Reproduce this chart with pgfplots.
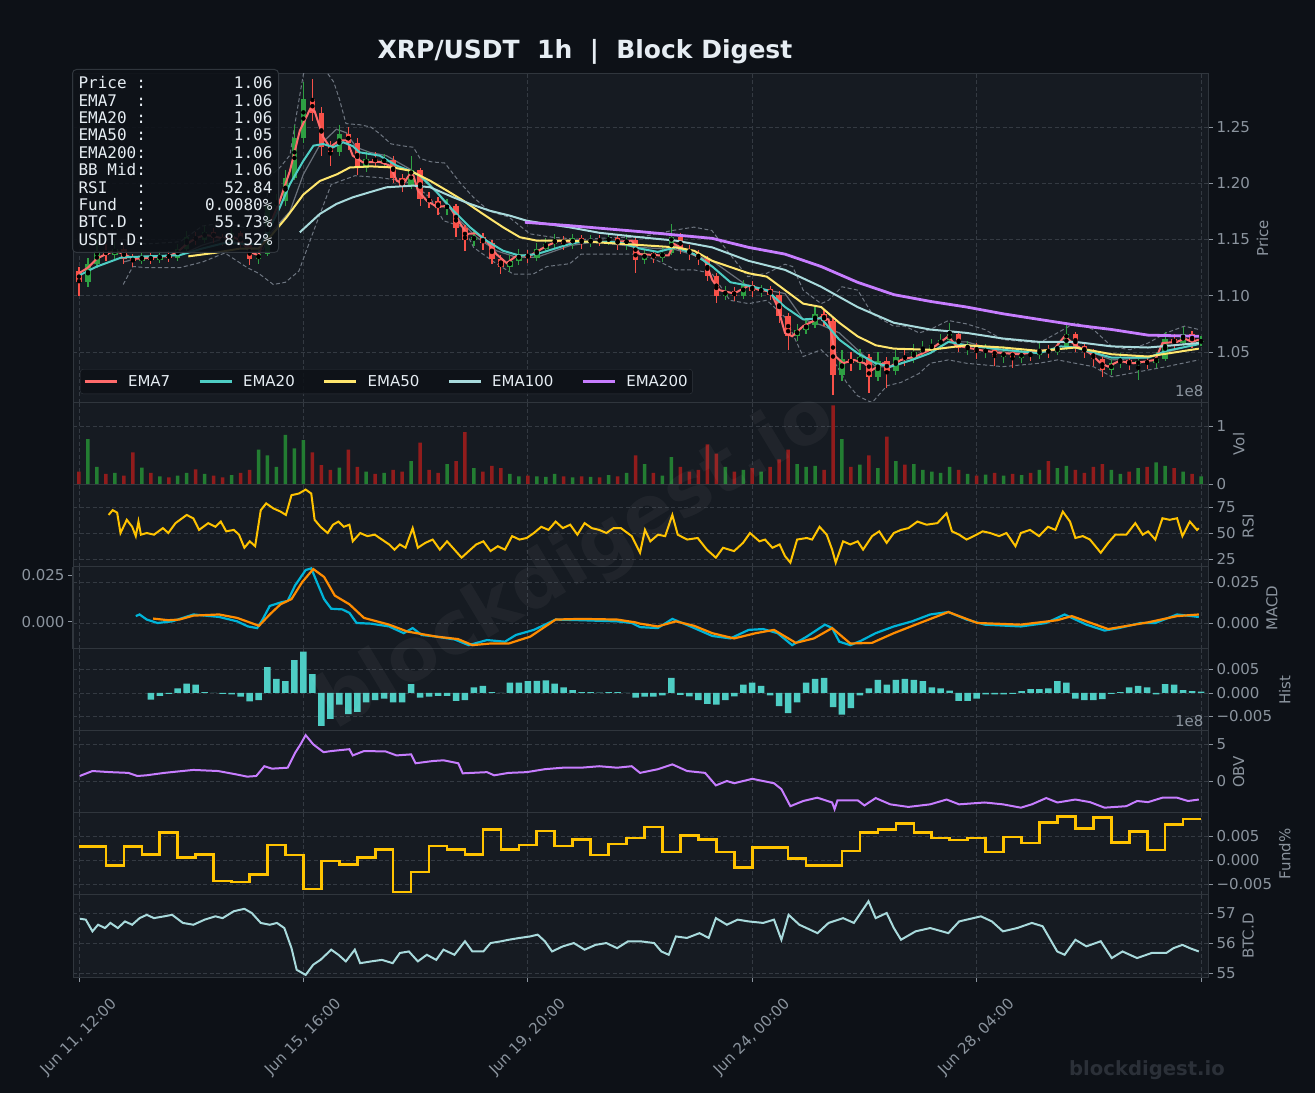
\documentclass[border=0pt]{standalone}
\usepackage{fontspec}
\setmainfont{DejaVu Sans}
\newfontfamily\monofont{DejaVu Sans Mono}
\usepackage{pgfplots}
\pgfplotsset{compat=1.18}
\usepackage{pgfplotstable}

\definecolor{bg}{RGB}{13,17,23}
\definecolor{axbg}{RGB}{22,27,34}
\definecolor{spine}{RGB}{48,54,61}
\definecolor{gridc}{RGB}{52,58,66}
\definecolor{ticklab}{RGB}{139,148,158}
\definecolor{txt}{RGB}{230,237,243}
\definecolor{ema7}{RGB}{255,107,107}
\definecolor{ema20}{RGB}{78,205,196}
\definecolor{ema50}{RGB}{255,230,109}
\definecolor{ema100}{RGB}{168,218,220}
\definecolor{ema200}{RGB}{199,125,255}
\definecolor{cup}{RGB}{46,160,67}
\definecolor{cdn}{RGB}{248,81,73}
\definecolor{vup}{RGB}{35,125,50}
\definecolor{vdn}{RGB}{145,28,28}
\definecolor{rsic}{RGB}{255,195,0}
\definecolor{macdc}{RGB}{0,180,216}
\definecolor{sigc}{RGB}{255,140,0}
\definecolor{bbc}{RGB}{110,118,129}
\definecolor{bbm}{RGB}{105,112,122}
\definecolor{wm}{RGB}{43,48,56}

\pgfplotstableread{
t o h l c v
0 1.122 1.126 1.100 1.112 0.22
4 1.112 1.134 1.108 1.128 0.78
8 1.128 1.150 1.125 1.140 0.30
12 1.140 1.146 1.131 1.136 0.18
16 1.136 1.148 1.132 1.142 0.20
20 1.142 1.145 1.128 1.133 0.15
24 1.133 1.137 1.126 1.131 0.55
28 1.131 1.139 1.128 1.135 0.29
32 1.135 1.138 1.128 1.132 0.20
36 1.132 1.140 1.129 1.136 0.14
40 1.136 1.140 1.130 1.134 0.12
44 1.134 1.146 1.131 1.142 0.15
48 1.142 1.158 1.140 1.152 0.20
52 1.152 1.157 1.145 1.150 0.26
56 1.150 1.162 1.147 1.157 0.18
60 1.157 1.160 1.147 1.151 0.15
64 1.151 1.155 1.144 1.149 0.12
68 1.149 1.160 1.146 1.156 0.16
72 1.156 1.158 1.142 1.146 0.20
76 1.146 1.148 1.127 1.133 0.25
80 1.133 1.141 1.128 1.137 0.60
84 1.137 1.186 1.135 1.180 0.50
88 1.180 1.190 1.176 1.184 0.30
92 1.184 1.212 1.180 1.205 0.85
96 1.205 1.252 1.203 1.240 0.62
100 1.240 1.290 1.236 1.275 0.76
104 1.275 1.293 1.255 1.262 0.55
108 1.262 1.268 1.224 1.232 0.33
112 1.232 1.238 1.215 1.228 0.25
116 1.228 1.252 1.224 1.244 0.29
120 1.244 1.250 1.230 1.236 0.60
124 1.236 1.240 1.207 1.214 0.30
128 1.214 1.229 1.210 1.222 0.22
132 1.222 1.228 1.214 1.219 0.18
136 1.219 1.226 1.214 1.221 0.20
140 1.221 1.224 1.200 1.205 0.25
144 1.205 1.208 1.192 1.198 0.22
148 1.198 1.224 1.195 1.212 0.40
152 1.212 1.214 1.180 1.186 0.72
156 1.186 1.192 1.178 1.184 0.25
160 1.184 1.188 1.172 1.178 0.20
164 1.178 1.186 1.172 1.180 0.35
168 1.180 1.182 1.152 1.160 0.40
172 1.160 1.163 1.140 1.150 0.90
176 1.150 1.158 1.144 1.152 0.28
180 1.152 1.156 1.141 1.147 0.22
184 1.147 1.150 1.128 1.133 0.32
188 1.133 1.136 1.119 1.126 0.28
192 1.126 1.136 1.121 1.131 0.18
196 1.131 1.142 1.127 1.137 0.14
200 1.137 1.141 1.129 1.134 0.15
204 1.134 1.147 1.131 1.142 0.14
208 1.142 1.151 1.139 1.146 0.13
212 1.146 1.155 1.142 1.150 0.18
216 1.150 1.153 1.141 1.146 0.14
220 1.146 1.155 1.142 1.151 0.12
224 1.151 1.154 1.142 1.147 0.14
228 1.147 1.154 1.143 1.150 0.13
232 1.150 1.154 1.144 1.149 0.12
236 1.149 1.155 1.145 1.151 0.16
240 1.151 1.154 1.141 1.146 0.14
244 1.146 1.155 1.141 1.150 0.20
248 1.150 1.152 1.120 1.132 0.50
252 1.132 1.142 1.128 1.138 0.35
256 1.138 1.141 1.129 1.134 0.20
260 1.134 1.143 1.130 1.138 0.15
264 1.138 1.164 1.136 1.152 0.47
268 1.152 1.156 1.137 1.141 0.30
272 1.141 1.145 1.132 1.138 0.22
276 1.138 1.141 1.127 1.133 0.25
280 1.133 1.135 1.113 1.118 0.69
284 1.118 1.120 1.094 1.100 0.53
288 1.100 1.109 1.096 1.104 0.30
292 1.104 1.108 1.095 1.100 0.22
296 1.100 1.114 1.097 1.110 0.25
300 1.110 1.113 1.099 1.104 0.28
304 1.104 1.110 1.099 1.106 0.22
308 1.106 1.109 1.096 1.101 0.30
312 1.101 1.104 1.076 1.082 0.43
316 1.082 1.085 1.052 1.064 0.60
320 1.064 1.075 1.060 1.070 0.35
324 1.070 1.079 1.066 1.074 0.30
328 1.074 1.090 1.071 1.084 0.32
332 1.084 1.087 1.073 1.078 0.25
336 1.078 1.080 1.012 1.030 1.36
340 1.030 1.052 1.024 1.044 0.78
344 1.044 1.050 1.033 1.040 0.30
348 1.040 1.053 1.034 1.046 0.34
352 1.046 1.048 1.014 1.028 0.50
356 1.028 1.050 1.024 1.042 0.28
360 1.042 1.046 1.018 1.033 0.82
364 1.033 1.052 1.030 1.046 0.40
368 1.046 1.052 1.038 1.044 0.34
372 1.044 1.057 1.040 1.050 0.35
376 1.050 1.060 1.046 1.053 0.25
380 1.053 1.062 1.049 1.056 0.22
384 1.056 1.066 1.052 1.061 0.20
388 1.061 1.076 1.058 1.066 0.30
392 1.066 1.068 1.050 1.054 0.25
396 1.054 1.060 1.047 1.055 0.18
400 1.055 1.058 1.044 1.050 0.15
404 1.050 1.057 1.045 1.052 0.17
408 1.052 1.055 1.038 1.046 0.20
412 1.046 1.055 1.040 1.050 0.15
416 1.050 1.053 1.036 1.045 0.18
420 1.045 1.054 1.040 1.049 0.16
424 1.049 1.053 1.042 1.047 0.20
428 1.047 1.058 1.044 1.052 0.25
432 1.052 1.056 1.045 1.050 0.40
436 1.050 1.060 1.047 1.054 0.28
440 1.054 1.076 1.052 1.066 0.32
444 1.066 1.068 1.050 1.055 0.25
448 1.055 1.058 1.045 1.050 0.20
452 1.050 1.053 1.038 1.044 0.30
456 1.044 1.046 1.028 1.034 0.35
460 1.034 1.044 1.030 1.040 0.25
464 1.040 1.049 1.036 1.043 0.18
468 1.043 1.046 1.034 1.039 0.22
472 1.039 1.047 1.025 1.042 0.28
476 1.042 1.046 1.035 1.040 0.30
480 1.040 1.050 1.036 1.044 0.38
484 1.044 1.068 1.042 1.062 0.32
488 1.062 1.066 1.052 1.058 0.28
492 1.058 1.072 1.055 1.066 0.22
496 1.066 1.069 1.054 1.059 0.18
500 1.059 1.064 1.055 1.060 0.14
}\candles

\pgfplotsset{
  panel/.style={
    scale only axis, width=1135pt, anchor=south west,
    xmin=-2.67, xmax=503.1,
    scaled x ticks=false, scaled y ticks=false,
    axis background/.style={fill=axbg},
    axis line style={draw=spine, line width=1pt},
    xtick={0,100,200,300,400,500}, xticklabels={},
    xmajorgrids, ymajorgrids,
    grid style={draw=gridc, line width=0.8pt, dash pattern=on 4pt off 2.5pt},
    ytick style={draw=ticklab, line width=0.8pt},
    xtick style={draw=none},
    tick align=outside, major tick length=5pt,
    ytick pos=right, yticklabel pos=right, ylabel near ticks,
    yticklabel style={font=\fontsize{15}{18}\selectfont, text=ticklab},
    ylabel style={font=\fontsize{15}{18}\selectfont, text=ticklab},
  },
}

\begin{document}
\begin{tikzpicture}
\fill[bg] (0,0) rectangle (1315pt,1093pt);
\useasboundingbox (0,0) rectangle (1315pt,1093pt);

% ---------------- PRICE ----------------
\begin{axis}[panel, at={(73pt,690pt)}, height=329pt,
  ymin=1.0047, ymax=1.2971,
  ytick={1.05,1.10,1.15,1.20,1.25}, yticklabels={1.05,1.10,1.15,1.20,1.25},
  ylabel={Price},
  legend columns=5,
  legend style={at={(axis description cs:0.0062,0.027)}, anchor=south west,
    fill=bg, fill opacity=0.85, draw opacity=1, text opacity=1, draw=spine,
    rounded corners=3pt, text=txt, font=\fontsize{15}{18}\selectfont,
    inner xsep=3pt, inner ysep=4pt,
    /tikz/every odd column/.append style={column sep=8pt},
    /tikz/every even column/.append style={column sep=26pt}},
  legend image code/.code={\draw[#1, line width=2.8pt] (0pt,0pt) -- (32pt,0pt);},
]
% Bollinger bands
\addplot[bbc, line width=1pt, dash pattern=on 4pt off 2.5pt, forget plot] coordinates {
(19.7,1.150) (30,1.146) (45,1.148) (55,1.162) (65,1.165) (75,1.160) (82,1.162) (85,1.206) (90,1.215) (94,1.225) (97,1.262) (100,1.297) (103,1.312) (108,1.306) (111,1.297) (113.5,1.290) (116,1.275) (119,1.253) (125,1.252) (130,1.250) (134,1.244) (139,1.235) (145,1.233) (149,1.232) (152,1.222) (157,1.219) (163,1.218) (170,1.200) (176,1.187) (183,1.175) (191.5,1.170) (201,1.155) (211,1.152) (224,1.150) (240,1.152) (249.8,1.152) (264.4,1.158) (274,1.161) (282,1.158) (290,1.137) (298,1.117) (306.5,1.120) (314.6,1.128) (318,1.126) (322.7,1.105) (330.7,1.093) (334,1.096) (340,1.108) (347,1.105) (353.4,1.084) (363,1.073) (368,1.073) (374.4,1.067) (379.3,1.070) (387.4,1.078) (395.5,1.075) (403.6,1.070) (411.7,1.061) (427.8,1.058) (436,1.067) (444,1.076) (452,1.070) (460.2,1.055) (468.3,1.052) (476.4,1.058) (484.5,1.067) (492.6,1.073) (499,1.070)};
\addplot[bbc, line width=1pt, dash pattern=on 4pt off 2.5pt, forget plot] coordinates {
(19.7,1.110) (24,1.126) (30,1.125) (45,1.125) (55,1.130) (65,1.138) (75,1.125) (80,1.120) (86.6,1.110) (92,1.112) (98,1.122) (105,1.160) (112.4,1.199) (123,1.2067) (134,1.205) (144.5,1.2021) (149,1.199) (156.4,1.1874) (162.4,1.1667) (171.3,1.161) (175.8,1.143) (186,1.1285) (193.5,1.1193) (202.4,1.1193) (208.5,1.126) (218.7,1.1285) (223.7,1.137) (240,1.137) (249.8,1.137) (258,1.131) (266,1.123) (274,1.123) (282,1.120) (290,1.096) (298.4,1.093) (306.5,1.096) (314.6,1.081) (322.7,1.046) (330.7,1.052) (337,1.040) (342,1.023) (347,1.011) (353.4,1.005) (360,1.020) (366.3,1.023) (374.4,1.031) (379.3,1.040) (387.4,1.043) (395.5,1.040) (411.7,1.037) (427.8,1.040) (436,1.043) (444,1.040) (452,1.037) (460.2,1.028) (468.3,1.031) (476.4,1.034) (484.5,1.037) (499,1.043)};
\addplot[bbm, line width=1.2pt, forget plot] coordinates {
(19.7,1.130) (30,1.135) (45,1.136) (55,1.145) (65,1.151) (75,1.144) (82,1.141) (85,1.155) (94,1.175) (100,1.208) (107.3,1.234) (114.7,1.248) (119,1.245) (123.5,1.232) (129.5,1.2275) (137,1.2245) (147.4,1.2127) (155,1.2023) (162.4,1.1845) (169.8,1.1667) (177.2,1.152) (186,1.140) (195,1.1342) (204,1.1342) (218.7,1.1445) (230,1.148) (249.8,1.143) (266,1.141) (282.2,1.131) (298.4,1.108) (314.6,1.102) (322.7,1.079) (330.7,1.074) (338.8,1.067) (346.9,1.052) (355,1.037) (363.1,1.037) (371.2,1.043) (379.3,1.049) (387.4,1.059) (395.5,1.059) (411.7,1.050) (427.8,1.049) (444,1.055) (460.2,1.043) (476.4,1.045) (499,1.058)};
% candles: wicks
\addplot[only marks, mark=none, forget plot, error bars/.cd, y dir=both, y explicit, error mark=none,
  error bar style={line width=1.2pt, color=cup}]
  table[x=t, y expr={\thisrow{c}>=\thisrow{o} ? (\thisrow{h}+\thisrow{l})/2 : nan}, y error expr={(\thisrow{h}-\thisrow{l})/2}] {\candles};
\addplot[only marks, mark=none, forget plot, error bars/.cd, y dir=both, y explicit, error mark=none,
  error bar style={line width=1.2pt, color=cdn}]
  table[x=t, y expr={\thisrow{c}<\thisrow{o} ? (\thisrow{h}+\thisrow{l})/2 : nan}, y error expr={(\thisrow{h}-\thisrow{l})/2}] {\candles};
% candles: bodies
\addplot[only marks, mark=none, forget plot, error bars/.cd, y dir=both, y explicit, error mark=none,
  error bar style={line width=5.5pt, color=cup}]
  table[x=t, y expr={\thisrow{c}>=\thisrow{o} ? (\thisrow{o}+\thisrow{c})/2 : nan}, y error expr={max(abs(\thisrow{c}-\thisrow{o})/2,0.0006)}] {\candles};
\addplot[only marks, mark=none, forget plot, error bars/.cd, y dir=both, y explicit, error mark=none,
  error bar style={line width=5.5pt, color=cdn}]
  table[x=t, y expr={\thisrow{c}<\thisrow{o} ? (\thisrow{o}+\thisrow{c})/2 : nan}, y error expr={max(abs(\thisrow{c}-\thisrow{o})/2,0.0006)}] {\candles};
% EMAs
\addplot[ema7, line width=2pt] coordinates {
(0,1.120) (4,1.125) (8,1.133) (12,1.137) (16,1.140) (20,1.137) (24,1.133) (28,1.133) (32,1.134) (36,1.135) (40,1.135) (44,1.139) (48,1.146) (52,1.151) (56,1.154) (60,1.153) (64,1.151) (68,1.153) (72,1.149) (76,1.139) (80,1.136) (84,1.158) (89.5,1.1845) (94,1.211) (98.4,1.2467) (103,1.266) (105,1.264) (108.8,1.241) (111.8,1.232) (116,1.238) (119.4,1.238) (122,1.2245) (126.5,1.2186) (134,1.219) (138.5,1.2156) (141.6,1.2023) (144.5,1.1993) (147.4,1.208) (149,1.207) (151,1.1934) (155,1.1845) (159.5,1.179) (165,1.180) (168,1.170) (172.8,1.155) (177,1.1555) (181.5,1.149) (186,1.137) (190.6,1.129) (195,1.1356) (201,1.1356) (208.5,1.1445) (214,1.149) (218.7,1.148) (223.7,1.148) (239.8,1.148) (246.3,1.149) (249.8,1.137) (257.9,1.136) (262.8,1.136) (265.2,1.146) (270.9,1.140) (279,1.131) (282.2,1.114) (285.4,1.105) (291.9,1.102) (298.4,1.109) (303.2,1.105) (308.1,1.104) (311.3,1.090) (314.6,1.067) (317.8,1.064) (322.7,1.073) (330.7,1.081) (334,1.079) (337.2,1.046) (340.5,1.040) (345.3,1.043) (350,1.040) (353.4,1.034) (358.3,1.040) (361.5,1.037) (366.3,1.043) (372.8,1.046) (379.3,1.052) (384.1,1.059) (387.4,1.064) (390.6,1.056) (395.5,1.054) (403.6,1.051) (411.7,1.049) (419.7,1.048) (427.8,1.051) (434.3,1.052) (439.2,1.064) (444,1.056) (450.5,1.049) (455.3,1.040) (458.6,1.037) (463.4,1.042) (469.9,1.040) (476.4,1.042) (479.6,1.043) (482.8,1.058) (489.3,1.059) (492.6,1.062) (496,1.059) (499,1.061)};
\addlegendentry{EMA7}
\addplot[ema20, line width=2pt] coordinates {
(0,1.118) (8,1.126) (18.9,1.134) (30,1.135) (44.7,1.136) (55,1.142) (65,1.147) (75,1.146) (81,1.146) (85,1.160) (89.5,1.1786) (94,1.1993) (100,1.220) (104.5,1.2334) (108.8,1.2349) (113.3,1.232) (117.7,1.2364) (122,1.233) (125,1.2275) (134,1.2245) (141.6,1.2156) (147.4,1.2112) (151.9,1.2067) (159.5,1.192) (166.8,1.1756) (174.3,1.1608) (181.5,1.149) (189,1.140) (196.5,1.1356) (204,1.137) (218.7,1.146) (223.7,1.148) (239.8,1.148) (249.8,1.142) (257.9,1.139) (266,1.143) (274.1,1.137) (282.2,1.126) (290.3,1.112) (298.4,1.109) (306.5,1.105) (314.6,1.090) (322.7,1.079) (330.7,1.080) (338.8,1.061) (346.9,1.049) (355,1.040) (361.5,1.037) (371.2,1.043) (379.3,1.049) (387.4,1.059) (395.5,1.056) (411.7,1.052) (427.8,1.049) (437.5,1.055) (444,1.054) (460.2,1.045) (476.4,1.045) (484.5,1.051) (499,1.057)};
\addlegendentry{EMA20}
\addplot[ema50, line width=2pt] coordinates {
(48.7,1.135) (60,1.138) (72,1.142) (80,1.142) (85,1.152) (92.6,1.170) (100,1.190) (107.3,1.202) (115,1.208) (120.7,1.214) (130,1.215) (140,1.214) (147.4,1.2112) (156.4,1.2023) (164,1.1934) (171.3,1.1845) (180,1.1727) (189,1.1608) (196.5,1.152) (204,1.149) (218.7,1.149) (235,1.147) (250.8,1.145) (266,1.143) (274.1,1.140) (282.2,1.131) (298.4,1.120) (306.5,1.117) (314.6,1.105) (322.7,1.093) (330.7,1.090) (338.8,1.076) (346.9,1.064) (355,1.056) (363.1,1.053) (379.3,1.052) (395.5,1.056) (411.7,1.054) (427.8,1.051) (444,1.054) (460.2,1.048) (476.4,1.046) (499,1.053)};
\addlegendentry{EMA50}
\addplot[ema100, line width=2pt] coordinates {
(98.4,1.1564) (107.3,1.1727) (114.7,1.1816) (122,1.1875) (129.5,1.192) (137,1.1964) (149,1.1979) (156.4,1.1965) (166.8,1.1875) (174.3,1.1816) (183,1.1756) (192,1.1712) (199.5,1.1667) (208.5,1.1638) (218.7,1.1608) (231.8,1.156) (250,1.152) (266,1.149) (282.2,1.143) (298.4,1.131) (314.6,1.123) (330.7,1.108) (346.9,1.090) (363.1,1.076) (379.3,1.070) (395.5,1.067) (411.7,1.062) (427.8,1.059) (444,1.059) (460.2,1.055) (476.4,1.054) (499,1.058)};
\addlegendentry{EMA100}
\addplot[ema200, line width=2.8pt] coordinates {
(198.7,1.1653) (218.7,1.1623) (250,1.157) (266,1.154) (282.2,1.151) (298.4,1.143) (314.6,1.137) (330.7,1.126) (346.9,1.112) (363.1,1.101) (379.3,1.095) (395.5,1.090) (411.7,1.084) (427.8,1.079) (444,1.074) (460.2,1.070) (476.4,1.065) (499,1.064)};
\addlegendentry{EMA200}
\end{axis}

% ---------------- VOLUME ----------------
\begin{axis}[panel, at={(73pt,608pt)}, height=82pt,
  ymin=-0.01, ymax=1.40, ytick={0,1}, yticklabels={0,1}, ylabel={Vol}]
\addplot[ybar, bar width=3.5pt, bar shift=0pt, fill=vup, draw=none]
  table[x=t, y expr={\thisrow{c}>=\thisrow{o} ? \thisrow{v} : nan}] {\candles};
\addplot[ybar, bar width=3.5pt, bar shift=0pt, fill=vdn, draw=none]
  table[x=t, y expr={\thisrow{c}<\thisrow{o} ? \thisrow{v} : nan}] {\candles};
\end{axis}

% ---------------- RSI ----------------
\begin{axis}[panel, at={(73pt,526pt)}, height=82pt,
  ymin=17.3, ymax=96.2, ytick={25,50,75}, yticklabels={25,50,75}, ylabel={RSI}]
\addplot[rsic, line width=2pt] coordinates {
(13.2,67.4) (15,72) (17,69.6) (18.5,50) (21.3,62.7) (23.7,56) (25.3,47) (26.5,61) (27.6,48.4) (30.2,50) (33.4,48.4) (37.4,54.7) (39.8,50) (43,59.5) (48,67.4) (51,64) (53.5,53) (57.6,59.5) (60.8,56) (63.2,61) (65.6,51.6) (69,53) (71.3,48.4) (73.7,35.8) (76.1,42) (78.5,37.3) (81,72) (83.4,78.5) (86.6,73.7) (89.8,70.6) (92.2,67.4) (94.7,86.4) (98,88) (101,91.8) (103.5,88) (105,62.7) (107.6,56) (110.8,50) (113.2,58) (115.6,61) (118,56) (120.5,58) (122,42) (125.3,50) (128.5,47) (131.8,48.4) (135,43.7) (138.2,39) (140.6,34) (143,39) (145.5,35.8) (148.7,54.7) (151,35.8) (154.3,40.5) (157.6,43.7) (160.8,34) (164,42) (167.3,34) (170.5,26.3) (173.7,32.6) (177,39) (180.2,42) (183.4,32.6) (186.6,37.3) (189.8,34) (193,47) (196.3,43.7) (199.5,45.2) (202.7,50) (206,56) (209.2,53) (212.4,61) (215.6,54.7) (218.9,58) (222.1,48.4) (225.3,59.5) (228.5,54.7) (231.8,53) (235,50) (238.2,54.7) (241.5,54.7) (246.3,47) (250,31)
(252.2,53) (254.6,42) (258,48.4) (261.2,47) (264.4,67.4) (266.8,48.4) (271,43.7) (275.7,45.2) (279.8,34) (283.8,26.3) (287,35.8) (291.9,32.6) (295.9,40.5) (299,50) (303.2,42) (305.7,43.7) (309,35.8) (312.2,39) (314.6,27.8) (317,21.5) (320,43.7) (324.3,45.2) (326.7,43.7) (330,56) (333.2,48.4) (335.6,34) (337.2,21.5) (340.5,42) (343.7,39) (347,42) (349.4,34) (353.4,47) (356.6,51.6) (359.9,40.5) (363.1,50) (366.3,53) (369.6,54.7) (373.6,61) (377.7,58) (382.5,59.5) (386.6,69) (389,51.6) (392.2,48.4) (395.5,43.7) (398.7,47) (402.7,51.6) (406,50) (410,47) (413.3,50) (417.3,37.3) (419.7,50) (423.8,53) (427.8,47) (431.8,56) (435.1,53) (438.4,70.6) (441.6,61) (444,45.2) (447.3,47) (450.5,43.7) (455.3,31) (458.6,40.5) (461.8,48.4) (466.7,48.4) (470.7,59.5) (474,48.4) (476.4,51.6) (479.6,43.7) (482.8,64.2) (486,62.7) (489.3,64.2) (491.7,47) (495,61) (498.2,53) (499,54.7)};
\end{axis}

% ---------------- MACD ----------------
\begin{axis}[panel, at={(73pt,444pt)}, height=82pt,
  ymin=-0.01585, ymax=0.03415, ytick={0,0.025}, yticklabels={0.000,0.025}, ylabel={MACD}]
\addplot[macdc, line width=2.2pt] coordinates {
(25.3,0.0042) (27,0.0052) (30.2,0.0021) (35,0.0) (41.5,0.001) (51,0.0052) (62.4,0.0037) (70.5,0.001) (75.3,-0.0021) (79.4,-0.0031) (81.8,0.0021) (85,0.0104) (89.8,0.0125) (93,0.0135) (96.3,0.0229) (101,0.0323) (103.5,0.0333) (106,0.025) (109.2,0.0146) (112.4,0.0087) (117.3,0.0083) (120.5,0.0062) (123.7,0.0) (130.2,-0.0004) (138.2,-0.0021) (144.7,-0.0062) (148.7,-0.0031) (152.7,-0.0073) (159.2,-0.0083) (167.3,-0.01) (173.7,-0.0135) (181.8,-0.0104) (189.8,-0.0114) (194.7,-0.0073) (202.7,-0.0042) (212.4,0.0021) (223.7,0.0017) (239.8,0.001) (246.3,0.0) (250,-0.0025) (257.9,-0.0031) (264.4,0.0025) (272.5,-0.0021) (282.2,-0.0079) (290.3,-0.0094) (298.4,-0.0042) (304.9,-0.0037) (311.3,-0.0062) (317.8,-0.0135) (324.3,-0.0083) (332.4,-0.001) (335.6,-0.0031) (338.8,-0.0114) (343.7,-0.0135) (348.5,-0.0108) (355,-0.0062) (363.1,-0.0021) (371.2,0.001) (379.3,0.0052) (387.4,0.0067) (395.5,0.0021) (403.6,-0.001) (419.7,-0.0021) (431,0.0) (439.2,0.0052) (448.9,-0.001) (457,-0.0046) (463.4,-0.0031) (473.1,0.0) (479.6,0.0) (489.3,0.0052) (499,0.0037)};
\addplot[sigc, line width=2.2pt] coordinates {
(33,0.0027) (39.8,0.0017) (44.7,0.0021) (51,0.0045) (62.4,0.0052) (70.5,0.0031) (80.2,-0.0017) (85,0.0052) (89.8,0.0114) (94.7,0.0146) (99.5,0.025) (104.4,0.0329) (109.2,0.0281) (114,0.0167) (120.5,0.0114) (127,0.0031) (138.2,-0.001) (146.3,-0.0052) (159.2,-0.0083) (168.9,-0.0098) (175.3,-0.0135) (183.4,-0.0125) (191.5,-0.0125) (201.1,-0.0083) (212.4,0.0021) (223.7,0.0025) (239.8,0.0021) (247.9,0.0004) (250,-0.0004) (257.9,-0.0021) (266,0.001) (274.1,-0.0017) (282.2,-0.0062) (291.9,-0.0094) (301.6,-0.0062) (309.7,-0.0042) (319.4,-0.0121) (327.5,-0.0094) (335.6,-0.0031) (343.7,-0.0125) (353.4,-0.0121) (363.1,-0.0062) (372.8,-0.001) (387.4,0.0067) (400.3,0.0) (419.7,-0.001) (435.9,0.0017) (442.4,0.0042) (458.6,-0.0037) (476.4,0.0004) (489.3,0.0042) (499,0.0052)};
\end{axis}
\begin{axis}[scale only axis, width=1135pt, height=82pt, at={(73pt,444pt)}, anchor=south west,
  xmin=-2.67, xmax=503.1, ymin=-0.0146, ymax=0.0293,
  scaled x ticks=false, scaled y ticks=false,
  axis x line=none, axis y line*=left, axis line style={draw=spine, line width=1pt},
  ytick={0,0.025}, yticklabels={0.000,0.025},
  ytick style={draw=ticklab, line width=0.8pt}, tick align=outside, major tick length=5pt,
  yticklabel style={font=\fontsize{15}{18}\selectfont, text=ticklab}]
\addplot[draw=none, forget plot] coordinates {(0,0) (500,0)};
\end{axis}

% ---------------- HIST ----------------
\begin{axis}[panel, at={(73pt,362pt)}, height=82pt,
  ymin=-0.00809, ymax=0.00936, ytick={-0.005,0,0.005}, yticklabels={−0.005,0.000,0.005}, ylabel={Hist}]
\addplot[ybar, bar width=6.5pt, bar shift=0pt, fill=ema20, draw=none] coordinates {
(32,-0.0014) (36,-0.0006) (40,-0.0002) (44,0.0010) (48,0.0020) (52,0.0018) (56,0.0002) (60,0.0000) (64,-0.0002) (68,-0.0003) (72,-0.0008) (76,-0.0018) (80,-0.0015) (84,0.0055) (88,0.0030) (92,0.0025) (96,0.0070) (100,0.0088) (104,0.0040) (108,-0.0070) (112,-0.0055) (116,-0.0025) (120,-0.0045) (124,-0.0040) (128,-0.0020) (132,-0.0015) (136,-0.0012) (140,-0.0020) (144,-0.0020) (148,0.0019) (152,-0.0010) (156,-0.0008) (160,-0.0006) (164,-0.0006) (168,-0.0017) (172,-0.0015) (176,0.0012) (180,0.0015) (184,0.0002) (188,0.0000) (192,0.0022) (196,0.0022) (200,0.0025) (204,0.0026) (208,0.0027) (212,0.0020) (216,0.0012) (220,0.0006) (224,0.0002) (228,0.0002) (232,0.0001) (236,0.0002) (240,0.0002) (244,0.0000) (248,-0.0010) (252,-0.0008) (256,-0.0008) (260,-0.0005) (264,0.0032) (268,-0.0004) (272,-0.0007) (276,-0.0015) (280,-0.0023) (284,-0.0025) (288,-0.0015) (292,-0.0007) (296,0.0018) (300,0.0022) (304,0.0015) (308,-0.0005) (312,-0.0028) (316,-0.0043) (320,-0.0020) (324,0.0022) (328,0.0030) (332,0.0032) (336,-0.0030) (340,-0.0046) (344,-0.0032) (348,-0.0005) (352,0.0010) (356,0.0028) (360,0.0018) (364,0.0028) (368,0.0030) (372,0.0028) (376,0.0025) (380,0.0012) (384,0.0010) (388,0.0005) (392,-0.0017) (396,-0.0017) (400,-0.0012) (404,-0.0003) (408,-0.0003) (412,-0.0003) (416,-0.0002) (420,0.0004) (424,0.0008) (428,0.0008) (432,0.0010) (436,0.0025) (440,0.0022) (444,-0.0012) (448,-0.0015) (452,-0.0015) (456,-0.0013) (460,-0.0002) (464,0.0002) (468,0.0012) (472,0.0015) (476,0.0012) (480,-0.0003) (484,0.0019) (488,0.0018) (492,0.0006) (496,0.0004) (500,0.0003)};
\end{axis}

% ---------------- OBV ----------------
\begin{axis}[panel, at={(73pt,280pt)}, height=82pt,
  ymin=-4.32, ymax=6.76, ytick={0,5}, yticklabels={0,5}, ylabel={OBV}]
\addplot[ema200, line width=2pt] coordinates {
(0.3,0.68) (6,1.35) (14,1.2) (22,1.1) (26,0.68) (30,0.77) (38,1.1) (46,1.35) (51,1.5) (62,1.35) (70,0.9) (75,0.59) (79,0.68) (82.6,2.0) (86,1.67) (93,1.8) (96.3,3.8) (98.7,4.95) (101,6.2) (104.4,4.95) (109,3.9) (112.4,4.05) (120.5,4.3) (122,3.46) (127,4.05) (136.6,4.0) (141.5,3.46) (148,3.6) (150,2.4) (157.6,2.7) (162.4,2.8) (169,2.4) (171,1.04) (175,1.1) (181.8,1.2) (185,0.77) (191.5,1.1) (199.5,1.2) (207.6,1.6) (215.6,1.8) (223.7,1.8) (231.8,2.0) (239.8,1.8) (246.3,2.0) (250,1.1) (258,1.6) (264.4,2.25) (271,1.35) (279,1.1) (283.8,-0.59) (288.7,0) (292,-0.3) (300,0.3) (309.7,-0.3) (313,-1.1) (317,-3.4) (322.7,-2.7) (329,-2.25) (335.6,-2.9) (336.7,-3.8) (338,-2.6) (347,-2.6) (350,-3.3) (355,-2.3) (361.5,-3.15) (369.6,-3.5) (379.3,-3.15) (386.6,-2.5) (392.2,-3.15) (403.6,-2.9) (411.7,-3.15) (419.7,-3.6) (424.6,-3.15) (431,-2.3) (436,-2.9) (444,-2.5) (450.5,-2.85) (457,-3.6) (466.7,-3.4) (471.5,-2.7) (476.4,-2.85) (482.8,-2.25) (489.3,-2.25) (494.2,-2.7) (499,-2.5)};
\end{axis}

% ---------------- FUNDING ----------------
\begin{axis}[panel, at={(73pt,198pt)}, height=82pt,
  ymin=-0.00729, ymax=0.00979, ytick={-0.005,0,0.005}, yticklabels={−0.005,0.000,0.005}, ylabel={Fund\%}]
\addplot[rsic, line width=2.6pt, const plot] coordinates {
(0,0.0028) (12,-0.0011) (20,0.0028) (28,0.0012) (36,0.0057) (44,0.0005) (52,0.0012) (60,-0.0044) (68,-0.0046) (76,-0.003) (84,0.0031) (92,0.001) (100,-0.006) (108,-0.0002) (116,-0.0009) (124,0.0005) (132,0.0022) (140,-0.0067) (148,-0.0025) (156,0.0029) (164,0.0022) (172,0.0012) (180,0.0064) (188,0.0022) (196,0.0031) (204,0.006) (212,0.0029) (220,0.0043) (228,0.001) (236,0.0033) (244,0.0046) (252,0.0069) (260,0.0017) (268,0.0051) (276,0.0043) (284,0.0017) (292,-0.0016) (300,0.0026) (316,0.0003) (324,-0.0012) (340,0.0019) (348,0.0057) (356,0.0064) (364,0.0076) (372,0.0057) (380,0.0046) (388,0.0042) (396,0.0046) (404,0.0017) (412,0.0048) (420,0.0035) (428,0.0078) (436,0.009) (444,0.0066) (452,0.0088) (460,0.0036) (468,0.0059) (476,0.0021) (484,0.0074) (492,0.0085) (500,0.0085)};
\end{axis}

% ---------------- BTC.D ----------------
\begin{axis}[panel, at={(73pt,116pt)}, height=82pt,
  ymin=54.87, ymax=57.6, ytick={55,56,57}, yticklabels={55,56,57}, ylabel={BTC.D},
  xtick pos=bottom, xtick style={draw=ticklab, line width=0.8pt},
  xticklabels={{Jun 11, 12:00},{Jun 15, 16:00},{Jun 19, 20:00},{Jun 24, 00:00},{Jun 28, 04:00},{}},
  xticklabel style={font=\fontsize{15}{18}\selectfont, text=ticklab, yshift=-55pt, rotate=45, anchor=center}]
\addplot[ema100, line width=2pt] coordinates {
(0.4,56.81) (3,56.78) (6,56.39) (8.5,56.61) (11.6,56.5) (14,56.67) (17.3,56.5) (20.5,56.72) (23.7,56.61) (27,56.83) (30.2,56.94) (33.4,56.83) (38,56.89) (41.5,56.94) (46.3,56.67) (51,56.61) (56,56.78) (60.8,56.89) (64,56.83) (69,57.06) (73.7,57.14) (77,57.0) (81,56.67) (85,56.61) (88.2,56.67) (91.5,56.5) (94.7,55.83) (97,55.11) (101,54.94) (104.4,55.28) (107.6,55.44) (112.4,55.78) (115.6,55.61) (118.9,55.39) (122.9,55.78) (125.3,55.33) (130.2,55.39) (135,55.44) (139.8,55.33) (143,55.67) (147,55.72) (151,55.39) (155,55.61) (159.2,55.44) (162.4,55.78) (167.3,55.61) (172,56.06) (175.3,55.72) (180.2,55.72) (183.4,56.0) (188.2,56.06) (191.5,56.11) (196.3,56.17) (201,56.22) (204.4,56.28) (207.6,56.06) (210.8,55.72) (215.6,55.89) (220.5,56.0) (225.3,55.78) (230.2,55.94) (235,56.0) (239.8,55.83) (244.7,56.06) (250,56.06) (256.3,56.0) (259.5,55.72) (262.8,55.61) (266,56.22) (270.9,56.17) (276.5,56.33) (280.6,56.17) (283.8,56.83) (288.7,56.61) (293.5,56.78) (298.4,56.72) (304.9,56.67) (309.7,56.78) (313,56.11) (316.2,56.94) (321,56.61) (329.1,56.33) (334,56.67) (340.5,56.83) (345.3,56.67) (351.8,57.39) (355,56.83) (359.9,57.0) (363.1,56.5) (366.3,56.11) (372.8,56.39) (379.3,56.5) (387.4,56.33) (392.2,56.72) (401.9,56.89) (406.8,56.72) (411.7,56.39) (418.1,56.5) (424.6,56.67) (429.4,56.56) (435.9,55.72) (439.2,55.61) (444,56.11) (448.9,55.89) (455.3,56.06) (460.2,55.5) (465,55.72) (471.5,55.5) (478,55.67) (484.5,55.67) (487.7,55.83) (491.7,55.94) (495,55.83) (499,55.72)};
\end{axis}

% ---------------- overlays ----------------
\node[anchor=base east, font=\fontsize{15}{18}\selectfont, text=ticklab] at (1207pt,696pt) {1e8};
\node[anchor=base east, font=\fontsize{15}{18}\selectfont, text=ticklab] at (1207pt,366pt) {1e8};
\node[font=\bfseries\fontsize{25}{30}\selectfont, text=txt] at (585pt,1041pt) {XRP/USDT\ \ 1h\ \ |\ \ Block Digest};
\node[rotate=31, font=\bfseries\fontsize{74}{80}\selectfont, text=white, text opacity=0.045] at (577pt,531pt) {blockdigest.io};
\node[font=\bfseries\fontsize{19.6}{22}\selectfont, text=wm] at (1147pt,23pt) {blockdigest.io};
\node[anchor=north west, fill=bg, fill opacity=0.88, text opacity=1, draw=spine, draw opacity=1, line width=1pt,
  rounded corners=4pt, inner xsep=6pt, inner ysep=7pt, text=txt] at (72pt,1024pt) {%
\begin{minipage}{194pt}\fontsize{16}{17.4}\selectfont\monofont
Price :\hfill 1.06\par
EMA7\ \ :\hfill 1.06\par
EMA20 :\hfill 1.06\par
EMA50 :\hfill 1.05\par
EMA200:\hfill 1.06\par
BB Mid:\hfill 1.06\par
RSI\ \ \ :\hfill 52.84\par
Fund\ \ :\hfill 0.0080\%\par
BTC.D :\hfill 55.73\%\par
USDT.D:\hfill 8.52\%
\end{minipage}};
\end{tikzpicture}
\end{document}
